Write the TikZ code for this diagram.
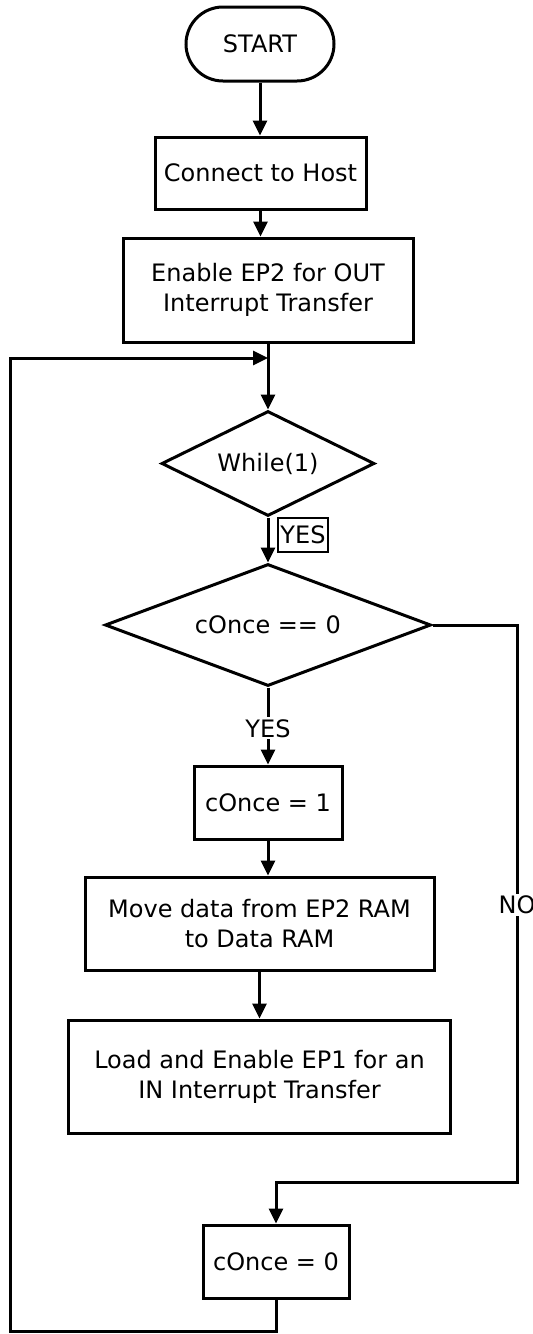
\documentclass[tikz,border=0pt]{standalone}
\usepackage{fontspec}
\setmainfont{DejaVu Sans}
\usetikzlibrary{shapes.geometric,arrows.meta}
\begin{document}
\begin{tikzpicture}[x=0.5pt,y=-0.5pt,
  font=\fontsize{12}{15}\selectfont,
  every node/.style={align=center},
  arr/.style={line width=1.5pt,-{Triangle[width=7pt,length=7.5pt]}},
  procbox/.style={draw,line width=1.5pt,rectangle,inner sep=0pt},
  decision/.style={draw,line width=1.5pt,diamond,inner sep=0pt,aspect=2},
  term/.style={draw,line width=1.5pt,rectangle,rounded corners=18.5pt,inner sep=0pt}]
\useasboundingbox (0,0) rectangle (533,1334);
\node[term,minimum width=74pt,minimum height=37pt] (start) at (260,44) {START};
\node[procbox,minimum width=105.5pt,minimum height=36pt] (connect) at (260.5,173) {Connect to Host};
\node[procbox,minimum width=145pt,minimum height=52pt] (enable) at (268,290) {Enable EP2 for OUT\\Interrupt Transfer};
\node[decision,minimum width=106.5pt,minimum height=52.5pt] (while) at (268,463.5) {While(1)};
\node[draw,line width=0.6pt,inner sep=0pt,minimum width=25pt,minimum height=17pt] (yes1) at (303,535) {YES};
\node[decision,minimum width=163pt,minimum height=61pt] (cond) at (268,625) {cOnce == 0};
\node[procbox,minimum width=74pt,minimum height=36.5pt] (c1) at (268,802.5) {cOnce = 1};
\node[procbox,minimum width=174.5pt,minimum height=46.5pt] (move) at (259.5,923.5) {Move data from EP2 RAM\\to Data RAM};
\node[procbox,minimum width=191pt,minimum height=56.5pt] (load) at (259.5,1076.5) {Load and Enable EP1 for an\\IN Interrupt Transfer};
\node[procbox,minimum width=73pt,minimum height=36.5pt] (c0) at (276,1261.5) {cOnce = 0};
\coordinate (merge) at (268,358);
\coordinate (bl) at (10,1331.5);
\coordinate (tl) at (10,358);
\coordinate (nr) at (517,1182);
\draw[arr] (start.south) -- (start.south |- connect.north);
\draw[arr] (connect.south) -- (connect.south |- enable.north);
\draw[arr] (enable.south) -- (while.north);
\draw[arr] (while.south) -- (cond.north);
\draw[arr] (cond.south) -- node[fill=white,inner sep=1pt,pos=0.53] (yes2) {YES} (c1.north);
\draw[arr] (c1.south) -- (c1.south |- move.north);
\draw[arr] (move.south) -- (load.north);
\draw[arr] (cond.east) -| (nr) -| (c0.north);
\node[fill=white,inner sep=1pt] (no) at (517,905) {NO};
\draw[arr] (c0.south) |- (bl) -- (tl) -- (merge);
\end{tikzpicture}
\end{document}
